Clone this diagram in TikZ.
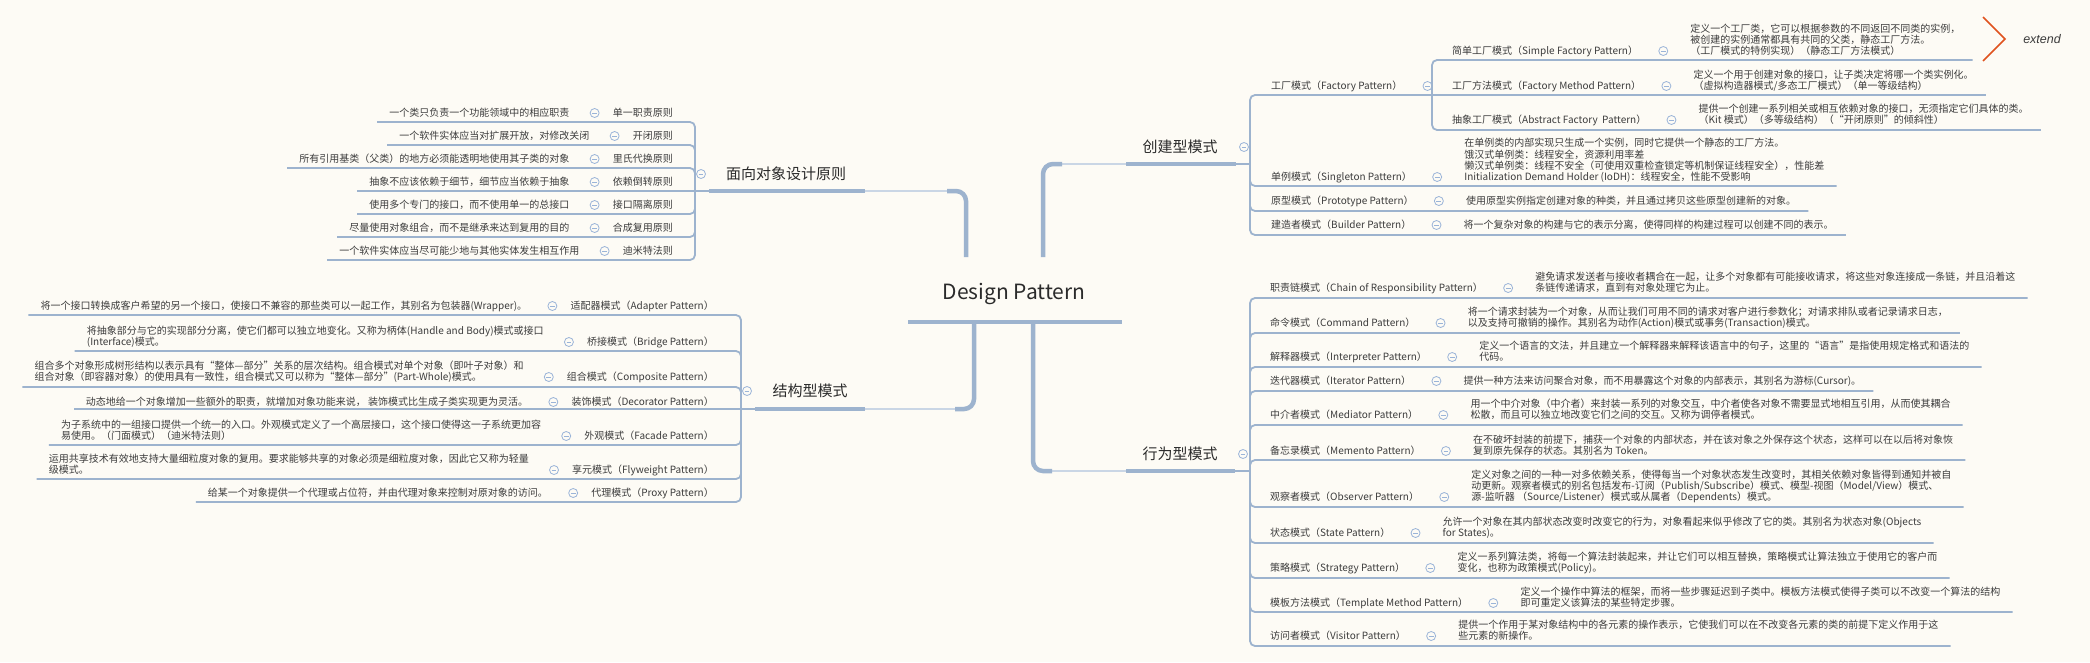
\documentclass[tikz,border=0pt]{standalone}
\usepackage{fontspec}
\newfontfamily\cjk{Noto Sans CJK SC}
\newfontfamily\latit{Liberation Sans}
\usetikzlibrary{calc}
\definecolor{bg}{HTML}{FDFBF5}
\definecolor{lineC}{HTML}{9DB3CE}
\definecolor{lineL}{HTML}{CAD6E5}
\definecolor{txt}{HTML}{3C3C3C}
\definecolor{mainT}{HTML}{2B2B2B}
\definecolor{iconC}{HTML}{9AB4D8}
\definecolor{extC}{HTML}{E0521E}
\newcommand\rrow[8]{%
  \node[nm, anchor=base west] (#1) at (#2,#3+3.8) {#7};
  \path (#1.east |- 0,#3) coordinate (#1e);
  \coordinate (#1c) at ($(#1e)+(25,0)$);
  \pic at (#1c) {collapse};
  \node[ds, anchor=south west] (#1d) at ($(#1c)+(27,7.2)$) {#8\strut};
  \path (#1d.east |- 0,#4) coordinate (#1f);
  \coordinate (#1g) at ($(#1f)+(12,0)$);
  \coordinate (#1v) at (#5,#6);
  \ifdim #4pt=#6pt \draw[child] (#1v) -- (#1g);\else\draw[child] (#1v) |- (#1g);\fi
}
\newcommand\lrow[8]{%
  \node[nm, anchor=base east] (#1) at (#2,#3+3.8) {#7};
  \path (#1.west |- 0,#3) coordinate (#1e);
  \coordinate (#1c) at ($(#1e)+(-18,0)$);
  \pic at (#1c) {collapse};
  \node[ds, anchor=south east] (#1d) at ($(#1c)+(-25,7.2)$) {#8\strut};
  \path (#1d.west |- 0,#4) coordinate (#1f);
  \coordinate (#1g) at ($(#1f)+(-12,0)$);
  \coordinate (#1v) at (#5,#6);
  \ifdim #4pt=#6pt \draw[child] (#1v) -- (#1g);\else\draw[child] (#1v) |- (#1g);\fi
}
\begin{document}
\begin{tikzpicture}[x=1pt,y=-1pt,
  nm/.style={font=\cjk\fontsize{10}{11.3}\selectfont, text=txt, inner sep=0pt},
  ds/.style={nm, align=left},
  mainnode/.style={font=\cjk\fontsize{15}{18}\selectfont, text=mainT, inner sep=0pt},
  rootnode/.style={font=\cjk\fontsize{21}{24}\selectfont, text=mainT, inner sep=0pt},
  child/.style={draw=lineC, line width=1.8pt, rounded corners=5pt},
  trunk/.style={draw=lineC, line width=4.5pt, rounded corners=10pt},
  trunkL/.style={draw=lineL, line width=2.5pt},
  uline/.style={draw=lineC, line width=4pt},
  collapse/.pic={\draw[iconC, fill=bg, line width=0.8pt] (0,0) circle (4.5pt);
                 \draw[iconC, line width=0.8pt] (-2.4pt,0) -- (2.4pt,0);}
]
\fill[bg] (0,0) rectangle (2090,662);
\useasboundingbox (0,0) rectangle (2090,662);

% ---------- root ----------
\node[rootnode, anchor=base] (root) at (1014,299) {Design Pattern};
\coordinate (rootL) at (908,322);
\coordinate (rootR) at (1122,322);
\draw[uline, line width=4.5pt] (rootL) -- (rootR);

% ---------- main topics ----------
\node[mainnode, anchor=base] (cre) at (1180,152.7) {创建型模式};
\node[mainnode, anchor=base] (beh) at (1180,459.7) {行为型模式};
\node[mainnode, anchor=base] (oop) at (786,179.7) {面向对象设计原则};
\node[mainnode, anchor=base] (str) at (810,396.7) {结构型模式};
\pic at (1244,147) {collapse};
\pic at (1243,454) {collapse};
\pic at (701,174) {collapse};
\pic at (747,391) {collapse};

% trunks
\coordinate (tCre) at (1043,257); \coordinate (uCreA) at (1126,164); \coordinate (uCreB) at (1236,164);
\coordinate (tBeh) at (1033,322); \coordinate (uBehA) at (1126,471); \coordinate (uBehB) at (1235,471);
\coordinate (tOop) at (966,257);  \coordinate (uOopA) at (865,191); \coordinate (uOopB) at (709,191);
\coordinate (tStr) at (974,322);  \coordinate (uStrA) at (865,409); \coordinate (uStrB) at (755,409);

\draw[trunkL] (1058,164) -- (uCreA);
\draw[trunk] (tCre) |- (1062,164);
\draw[uline] (uCreA) -- (uCreB);

\draw[trunkL] (1048,471) -- (uBehA);
\draw[trunk] (tBeh) |- (1052,471);
\draw[uline] (uBehA) -- (uBehB);

\draw[trunkL] (951,191) -- (uOopA);
\draw[trunk] (tOop) |- (947,191);
\draw[uline] (uOopA) -- (uOopB);

\draw[trunkL] (959,409) -- (uStrA);
\draw[trunk] (tStr) |- (955,409);
\draw[uline] (uStrA) -- (uStrB);

% parent-to-vertical links
\draw[child, rounded corners=0pt] (uCreB) -- (1250,164);
\draw[child, rounded corners=0pt] (uBehB) -- (1250,471);
\draw[child, rounded corners=0pt] (uOopB) -- (695,191);
\draw[child, rounded corners=0pt] (uStrB) -- (741,409);

% ---------- creational ----------
\node[nm, anchor=base west] (fac) at (1271,89.8) {工厂模式（Factory Pattern）};
\path (fac.east |- 0,86) coordinate (face);
\coordinate (facc) at ($(face)+(25,0)$);
\pic at (facc) {collapse};
\coordinate (facv) at (1250,164);
\coordinate (facj) at (1432,95);
\draw[child] (facv) |- (facj);

\rrow{f1}{1452}{51}{60}{1432}{95}{简单工厂模式（Simple Factory Pattern）}{定义一个工厂类，它可以根据参数的不同返回不同类的实例，\\被创建的实例通常都具有共同的父类，静态工厂方法。\\（工厂模式的特例实现）（静态工厂方法模式）}
\rrow{f2}{1452}{86}{95}{1432}{95}{工厂方法模式（Factory Method Pattern）}{定义一个用于创建对象的接口，让子类决定将哪一个类实例化。\\（虚拟构造器模式/多态工厂模式）（单一等级结构）}
\rrow{f3}{1452}{120}{130}{1432}{95}{抽象工厂模式（Abstract Factory\ \ Pattern）}{提供一个创建一系列相关或相互依赖对象的接口，无须指定它们具体的类。\\（Kit 模式）（多等级结构）（“开闭原则”的倾斜性）}
\rrow{c2}{1271}{177}{186}{1250}{164}{单例模式（Singleton Pattern）}{在单例类的内部实现只生成一个实例，同时它提供一个静态的工厂方法。\\饿汉式单例类：线程安全，资源利用率差\\懒汉式单例类：线程不安全（可使用双重检查锁定等机制保证线程安全），性能差\\Initialization Demand Holder (IoDH)：线程安全，性能不受影响}
\rrow{c3}{1271}{201}{211}{1250}{164}{原型模式（Prototype Pattern）}{使用原型实例指定创建对象的种类，并且通过拷贝这些原型创建新的对象。}
\rrow{c4}{1271}{225}{235}{1250}{164}{建造者模式（Builder Pattern）}{将一个复杂对象的构建与它的表示分离，使得同样的构建过程可以创建不同的表示。}

% extend marker
\coordinate (exA) at (1983,17); \coordinate (exB) at (2005,39); \coordinate (exC) at (1983,61);
\draw[extC, line width=1.6pt] (exA) -- (exB) -- (exC);
\node[font=\latit\itshape\fontsize{12.5}{14}\selectfont, text=txt, inner sep=0pt] (extend) at (2042,39) {extend};

% ---------- behavioral ----------
\rrow{b1}{1270}{288}{298}{1250}{471}{职责链模式（Chain of Responsibility Pattern）}{避免请求发送者与接收者耦合在一起，让多个对象都有可能接收请求，将这些对象连接成一条链，并且沿着这\\条链传递请求，直到有对象处理它为止。}
\rrow{b2}{1270}{323}{333}{1250}{471}{命令模式（Command Pattern）}{将一个请求封装为一个对象，从而让我们可用不同的请求对客户进行参数化；对请求排队或者记录请求日志，\\以及支持可撤销的操作。其别名为动作(Action)模式或事务(Transaction)模式。}
\rrow{b3}{1270}{357}{367}{1250}{471}{解释器模式（Interpreter Pattern）}{定义一个语言的文法，并且建立一个解释器来解释该语言中的句子，这里的“语言”是指使用规定格式和语法的\\代码。}
\rrow{b4}{1270}{381}{391}{1250}{471}{迭代器模式（Iterator Pattern）}{提供一种方法来访问聚合对象，而不用暴露这个对象的内部表示，其别名为游标(Cursor)。}
\rrow{b5}{1270}{415}{425}{1250}{471}{中介者模式（Mediator Pattern）}{用一个中介对象（中介者）来封装一系列的对象交互，中介者使各对象不需要显式地相互引用，从而使其耦合\\松散，而且可以独立地改变它们之间的交互。又称为调停者模式。}
\rrow{b6}{1270}{451}{460}{1250}{471}{备忘录模式（Memento Pattern）}{在不破坏封装的前提下，捕获一个对象的内部状态，并在该对象之外保存这个状态，这样可以在以后将对象恢\\复到原先保存的状态。其别名为 Token。}
\rrow{b7}{1270}{497}{507}{1250}{471}{观察者模式（Observer Pattern）}{定义对象之间的一种一对多依赖关系，使得每当一个对象状态发生改变时，其相关依赖对象皆得到通知并被自\\动更新。观察者模式的别名包括发布-订阅（Publish/Subscribe）模式、模型-视图（Model/View）模式、\\源-监听器 （Source/Listener）模式或从属者（Dependents）模式。}
\rrow{b8}{1270}{533}{543}{1250}{471}{状态模式（State Pattern）}{允许一个对象在其内部状态改变时改变它的行为，对象看起来似乎修改了它的类。其别名为状态对象(Objects\\for States)。}
\rrow{b9}{1270}{568}{578}{1250}{471}{策略模式（Strategy Pattern）}{定义一系列算法类，将每一个算法封装起来，并让它们可以相互替换，策略模式让算法独立于使用它的客户而\\变化，也称为政策模式(Policy)。}
\rrow{b10}{1270}{603}{612}{1250}{471}{模板方法模式（Template Method Pattern）}{定义一个操作中算法的框架，而将一些步骤延迟到子类中。模板方法模式使得子类可以不改变一个算法的结构\\即可重定义该算法的某些特定步骤。}
\rrow{b11}{1270}{636}{646}{1250}{471}{访问者模式（Visitor Pattern）}{提供一个作用于某对象结构中的各元素的操作表示，它使我们可以在不改变各元素的类的前提下定义作用于这\\些元素的新操作。}

% ---------- OOP principles ----------
\lrow{o1}{673}{113}{122}{695}{191}{单一职责原则}{一个类只负责一个功能领域中的相应职责}
\lrow{o2}{673}{136}{145}{695}{191}{开闭原则}{一个软件实体应当对扩展开放，对修改关闭}
\lrow{o3}{673}{159}{168}{695}{191}{里氏代换原则}{所有引用基类（父类）的地方必须能透明地使用其子类的对象}
\lrow{o4}{673}{182}{191}{695}{191}{依赖倒转原则}{抽象不应该依赖于细节，细节应当依赖于抽象}
\lrow{o5}{673}{205}{214}{695}{191}{接口隔离原则}{使用多个专门的接口，而不使用单一的总接口}
\lrow{o6}{673}{228}{237}{695}{191}{合成复用原则}{尽量使用对象组合，而不是继承来达到复用的目的}
\lrow{o7}{673}{251}{260}{695}{191}{迪米特法则}{一个软件实体应当尽可能少地与其他实体发生相互作用}

% ---------- structural ----------
\lrow{s1}{714}{306}{315}{741}{409}{适配器模式（Adapter Pattern）}{将一个接口转换成客户希望的另一个接口，使接口不兼容的那些类可以一起工作，其别名为包装器(Wrapper)。}
\lrow{s2}{714}{342}{351}{741}{409}{桥接模式（Bridge Pattern）}{将抽象部分与它的实现部分分离，使它们都可以独立地变化。又称为柄体(Handle and Body)模式或接口\\(Interface)模式。}
\lrow{s3}{714}{377}{387}{741}{409}{组合模式（Composite Pattern）}{组合多个对象形成树形结构以表示具有“整体—部分”关系的层次结构。组合模式对单个对象（即叶子对象）和\\组合对象（即容器对象）的使用具有一致性，组合模式又可以称为“整体—部分”(Part-Whole)模式。}
\lrow{s4}{714}{402}{409}{741}{409}{装饰模式（Decorator Pattern）}{动态地给一个对象增加一些额外的职责，就增加对象功能来说， 装饰模式比生成子类实现更为灵活。}
\lrow{s5}{714}{436}{445}{741}{409}{外观模式（Facade Pattern）}{为子系统中的一组接口提供一个统一的入口。外观模式定义了一个高层接口，这个接口使得这一子系统更加容\\易使用。（门面模式）（迪米特法则）}
\lrow{s6}{714}{470}{479}{741}{409}{享元模式（Flyweight Pattern）}{运用共享技术有效地支持大量细粒度对象的复用。要求能够共享的对象必须是细粒度对象，因此它又称为轻量\\级模式。}
\lrow{s7}{714}{493}{502}{741}{409}{代理模式（Proxy Pattern）}{给某一个对象提供一个代理或占位符，并由代理对象来控制对原对象的访问。}
\end{tikzpicture}
\end{document}
